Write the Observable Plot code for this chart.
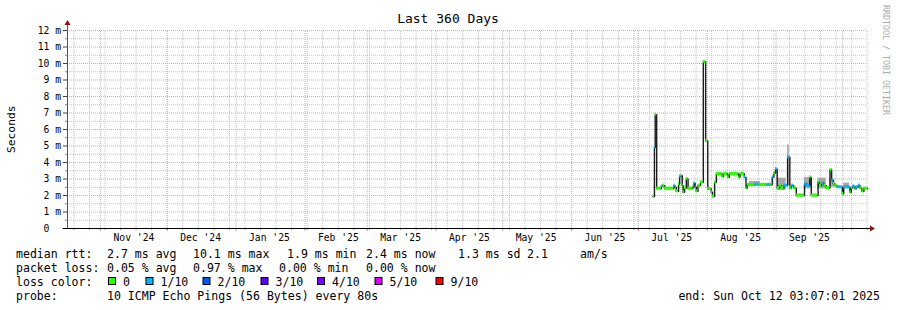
<!DOCTYPE html>
<html><head><meta charset="utf-8">
<script src="https://cdn.jsdelivr.net/npm/d3@7"></script>
<script src="https://cdn.jsdelivr.net/npm/@observablehq/plot@0.6"></script>
<style>
body{margin:0;background:#fff;}
#chart{width:897px;height:310px;}
svg text{font-family:"DejaVu Sans Mono",monospace;}
</style></head><body><div id="chart"></div>
<script>
const startTime = "2024-10-17T03:07:01Z";
const endTime = "2025-10-12T03:07:01Z";
const title = "Last 360 Days";
const yLabel = "Seconds";
const watermark = "RRDTOOL / TOBI OETIKER";
const yTicks = [0,1,2,3,4,5,6,7,8,9,10,11,12];
const yMinor = [0.5,1.5,2.5,3.5,4.5,5.5,6.5,7.5,8.5,9.5,10.5,11.5];
const labelMonths = ["2024-11","2024-12","2025-01","2025-02","2025-03","2025-04","2025-05","2025-06","2025-07","2025-08","2025-09"];
const xLabels = ["Nov '24","Dec '24","Jan '25","Feb '25","Mar '25","Apr '25","May '25","Jun '25","Jul '25","Aug '25","Sep '25"];

// median rtt (ms) and lost pings (out of 10)
const times = ["2025-07-07T14:00Z","2025-07-08T06:00Z","2025-07-08T14:00Z","2025-07-09T06:00Z","2025-07-11T08:00Z","2025-07-12T00:00Z","2025-07-12T20:00Z","2025-07-17T01:00Z","2025-07-17T14:00Z","2025-07-18T02:00Z",
"2025-07-19T03:00Z","2025-07-19T14:00Z","2025-07-20T06:00Z","2025-07-20T18:00Z","2025-07-21T03:00Z","2025-07-21T20:00Z","2025-07-22T14:00Z","2025-07-23T09:00Z","2025-07-25T15:00Z","2025-07-26T02:00Z",
"2025-07-26T14:00Z","2025-07-27T02:00Z","2025-07-27T20:00Z","2025-07-29T00:00Z","2025-07-30T06:00Z","2025-07-31T07:00Z","2025-08-01T06:00Z","2025-08-02T20:00Z","2025-08-03T09:00Z","2025-08-04T08:00Z",
"2025-08-05T03:00Z","2025-08-07T18:00Z","2025-08-08T08:00Z","2025-08-10T04:00Z","2025-08-10T22:00Z","2025-08-15T03:00Z","2025-08-15T18:00Z","2025-08-17T17:00Z","2025-08-18T11:00Z","2025-08-19T00:00Z",
"2025-08-22T15:00Z","2025-08-24T06:00Z","2025-08-28T00:00Z","2025-08-29T12:00Z","2025-08-30T06:00Z","2025-08-31T00:00Z","2025-08-31T18:00Z","2025-09-01T12:00Z","2025-09-02T12:00Z","2025-09-03T12:00Z",
"2025-09-04T12:00Z","2025-09-06T04:00Z","2025-09-07T04:00Z","2025-09-08T00:00Z","2025-09-09T00:00Z","2025-09-10T02:00Z","2025-09-13T19:00Z","2025-09-14T20:00Z","2025-09-16T03:00Z","2025-09-16T20:00Z",
"2025-09-19T21:00Z","2025-09-20T12:00Z","2025-09-21T12:00Z","2025-09-22T12:00Z","2025-09-23T14:00Z","2025-09-25T06:00Z","2025-09-26T00:00Z","2025-09-26T18:00Z","2025-09-27T12:00Z","2025-09-28T12:00Z",
"2025-09-30T20:00Z","2025-10-01T10:00Z","2025-10-04T06:00Z","2025-10-04T20:00Z","2025-10-05T12:00Z","2025-10-06T12:00Z","2025-10-07T00:00Z","2025-10-08T00:00Z","2025-10-08T20:00Z","2025-10-09T14:00Z",
"2025-10-10T12:00Z"];
const medians = [1.94,4.9,6.9,2.42,2.55,2.6,2.42,2.6,2.5,2.25,
2.7,3.15,3.2,2.6,2.2,2.45,3.0,2.42,2.55,2.75,
2.5,2.25,2.6,2.8,10.1,5.3,2.4,2.2,1.94,2.8,
3.31,3.15,3.31,3.1,3.31,3.1,3.31,3.1,2.45,2.65,
2.68,2.65,2.65,2.65,3.1,3.35,3.6,2.45,2.6,2.45,
2.6,4.32,2.45,2.6,2.45,2.0,2.7,2.6,3.1,2.0,
2.8,2.6,2.75,2.6,2.45,3.55,2.9,2.7,2.6,2.5,
2.1,2.5,2.2,2.45,2.55,2.4,2.5,2.6,2.45,2.25,
2.42];
const losses = [0,1,0,0,1,0,0,1,0,0,
0,1,0,0,0,0,0,0,0,1,
1,0,0,0,0,0,0,1,0,0,
0,0,0,0,0,0,0,1,0,0,
1,0,1,0,1,0,1,0,0,0,
1,1,0,1,0,0,1,1,0,0,
0,0,1,0,0,0,1,0,0,1,
0,1,0,0,1,0,1,1,0,0,
0];

// smoke (spread of the pings)
const smokeStart = ["2025-08-20T00:00Z","2025-09-01T12:00Z","2025-09-06T04:00Z","2025-09-13T19:00Z","2025-09-19T21:00Z","2025-09-25T06:00Z","2025-10-01T10:00Z"];
const smokeEnd   = ["2025-08-25T00:00Z","2025-09-05T12:00Z","2025-09-06T22:00Z","2025-09-16T20:00Z","2025-09-23T14:00Z","2025-09-27T12:00Z","2025-10-04T00:00Z"];
const smokeLow   = [2.55,2.3,2.6,2.4,2.4,2.5,2.4];
const smokeHigh  = [2.85,3.05,5.07,3.1,3.05,3.0,2.75];

const lossLabels = ["0","1/10","2/10","3/10","4/10","5/10","9/10"];
const lossColors = ["#26ff00","#00b8ff","#0059ff","#5e00ff","#7e00ff","#dd00ff","#ff0000"];

const rttRow = ["median rtt:","2.7 ms avg","10.1 ms max","1.9 ms min","2.4 ms now","1.3 ms sd","2.1","am/s"];
const lossRow = ["packet loss:","0.05 % avg","0.97 % max","0.00 % min","0.00 % now"];
const colorRowLabel = "loss color:";
const probeRow = ["probe:","10 ICMP Echo Pings (56 Bytes) every 80s"];
const endLabel = "end: Sun Oct 12 03:07:01 2025";

// ---------- build ----------
const P = s => new Date(s);
const t0 = P(startTime), t1 = P(endTime);
const T = times.map(P);
const bracket = l => l >= 9 ? 6 : Math.min(l, 5);
const pts = T.map((t,i) => ({t, m: medians[i], loss: losses[i]}));
const linePts = [...pts, {t: t1, m: medians[medians.length-1]}];
const segs = pts.map((p,i) => ({x1: p.t, x2: i+1 < pts.length ? pts[i+1].t : t1, m: p.m, c: lossColors[bracket(p.loss)]}));
const smoke = smokeStart.map((s,i) => ({x1: P(s), x2: P(smokeEnd[i]), lo: smokeLow[i], hi: smokeHigh[i]}));
const weeks = d3.utcSunday.range(t0, t1);
const monthStarts = d3.utcMonth.range(t0, t1);
const labelDates = labelMonths.map(m => d3.utcDay.offset(P(m + "-01T00:00Z"), 15));
const gray = "#c4c4c4", red = "#ff9c9c";

const plot = Plot.plot({
  width: 897, height: 310,
  marginLeft: 67, marginRight: 30, marginTop: 30, marginBottom: 82,
  x: {type: "utc", domain: [t0, t1]},
  y: {domain: [0, 12]},
  color: {type: "identity"},
  style: {fontFamily: "DejaVu Sans Mono", fontSize: "9.7px", color: "#000", background: "#fff", overflow: "visible"},
  marks: [
    Plot.ruleY(yMinor, {x1: t0, x2: t1, stroke: gray, strokeDasharray: "1,1"}),
    Plot.ruleX(weeks, {y1: 0, y2: 12, stroke: gray, strokeDasharray: "1,1"}),
    Plot.ruleY(yTicks.filter(d => d > 0), {x1: t0, x2: t1, stroke: red, strokeDasharray: "1,1"}),
    Plot.ruleX(monthStarts, {y1: 0, y2: 12, stroke: red, strokeDasharray: "1,1"}),
    Plot.rect(smoke, {x1: "x1", x2: "x2", y1: "lo", y2: "hi", fill: "#a8a8a8"}),
    Plot.lineY(linePts, {x: "t", y: "m", curve: "step-after", stroke: "#1c1c1c", strokeWidth: 1.4}),
    Plot.rect(segs, {x1: "x1", x2: "x2", y1: d => d.m - 0.09, y2: d => d.m + 0.09, fill: "c"}),
    Plot.axisY(yMinor, {tickSize: 2, tickFormat: () => "", stroke: "#888", label: null}),
    Plot.axisY(yTicks, {tickSize: 4, tickPadding: 2.5, stroke: "#444", label: null,
      tickFormat: d => d === 0 ? "0\u00a0\u00a0" : d + " m"}),
    Plot.axisX(weeks, {tickSize: 2, tickFormat: () => "", stroke: "#999", label: null}),
    Plot.axisX(monthStarts, {tickSize: 3, tickFormat: () => "", stroke: "#e08080", label: null}),
    Plot.axisX(labelDates, {tickSize: 0, tickPadding: 6, label: null,
      tickFormat: d => xLabels[labelDates.findIndex(v => +v === +d)]})
  ]
});
document.getElementById("chart").appendChild(plot);

// ---------- frame decorations & legend ----------
const svg = d3.select(plot);
const sx = plot.scale("x"), sy = plot.scale("y");
const X0 = Math.round(sx.apply(t0)) + 0.5, X1 = sx.apply(t1), Y0 = Math.round(sy.apply(0)) + 0.5, Ytop = sy.apply(12);
const dec = svg.append("g");
dec.append("line").attr("x1", X0).attr("x2", X0).attr("y1", Y0).attr("y2", Ytop - 6).attr("stroke", "#555");
dec.append("line").attr("x1", X0 - 5).attr("x2", X1 + 3).attr("y1", Y0).attr("y2", Y0).attr("stroke", "#000");
dec.append("path").attr("d", `M${X0},${Ytop-10}L${X0-3},${Ytop-5}L${X0+3},${Ytop-5}Z`).attr("fill", "#8b1010");
dec.append("path").attr("d", `M${X1+8},${Y0}L${X1+3},${Y0-3}L${X1+3},${Y0+3}Z`).attr("fill", "#8b1010");

svg.append("text").attr("x", 448).attr("y", 23).attr("text-anchor", "middle")
  .attr("font-size", "13px").attr("fill", "#000").text(title);
svg.append("text").attr("transform", `translate(15,${(Y0 + Ytop) / 2}) rotate(-90)`).attr("text-anchor", "middle")
  .attr("font-size", "11.3px").attr("fill", "#000").text(yLabel);
svg.append("text").attr("transform", "translate(883,60) rotate(90)").attr("text-anchor", "middle")
  .attr("font-size", "8.3px").attr("fill", "#ababab").text(watermark);

const legend = svg.append("g").attr("font-size", "11.55px").attr("fill", "#000").attr("text-anchor", "start");
const rowY = [258, 272, 286, 300];
const rttX = [16, 107, 193, 287, 366, 458, 527, 580];
const lossX = [16, 107, 193, 279, 366];
rttRow.forEach((s, i) => legend.append("text").attr("x", rttX[i]).attr("y", rowY[0]).text(s));
lossRow.forEach((s, i) => legend.append("text").attr("x", lossX[i]).attr("y", rowY[1]).text(s));
legend.append("text").attr("x", 16).attr("y", rowY[2]).text(colorRowLabel);
const swX = [108, 145.5, 202.5, 260.5, 317, 374.5, 435.5];
lossLabels.forEach((s, i) => {
  legend.append("rect").attr("x", swX[i] + 0.5).attr("y", rowY[2] - 8.5).attr("width", 7).attr("height", 7)
    .attr("fill", lossColors[i]).attr("stroke", "#000").attr("stroke-width", 1);
  legend.append("text").attr("x", swX[i] + 15).attr("y", rowY[2]).text(s);
});
legend.append("text").attr("x", 16).attr("y", rowY[3]).text(probeRow[0]);
legend.append("text").attr("x", 107).attr("y", rowY[3]).text(probeRow[1]);
legend.append("text").attr("x", 880).attr("y", rowY[3]).attr("text-anchor", "end").text(endLabel);
</script></body></html>
